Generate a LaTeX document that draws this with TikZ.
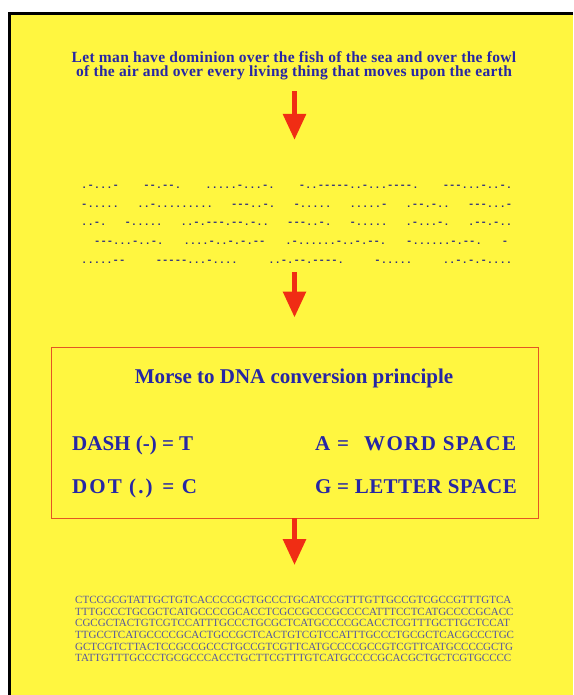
\documentclass[tikz,border=0pt]{standalone}
\usepackage{fontspec}
\setmainfont{Liberation Serif}
\newfontfamily\morsefont[Ligatures=TeXOff]{Liberation Mono}
\usetikzlibrary{arrows.meta}

\definecolor{pageyellow}{RGB}{255,246,64}
\definecolor{inkblue}{RGB}{38,38,165}
\definecolor{dnablue}{RGB}{85,85,160}
\definecolor{morseblue}{RGB}{40,40,130}
\definecolor{arrowred}{RGB}{240,45,20}
\definecolor{boxred}{RGB}{228,85,35}

\tikzset{
  headline/.style={font=\fontsize{15.5}{14.2}\selectfont\bfseries\addfontfeature{LetterSpace=2.2}, text=inkblue, align=center, inner sep=0pt},
  morseline/.style={font=\morsefont\fontsize{10.5}{10.5}\selectfont\bfseries, text=morseblue, inner sep=0pt, anchor=base west},
  rulebox/.style={draw=boxred, line width=0.9pt, minimum width=487pt, minimum height=171pt, inner sep=0pt},
  ruletext/.style={font=\fontsize{21}{21}\selectfont\bfseries, text=inkblue, inner sep=0pt, anchor=base west},
  widetext/.style={ruletext, font=\fontsize{21}{21}\selectfont\bfseries\addfontfeature{LetterSpace=#1}},
  dnaline/.style={font=\fontsize{11}{11}\selectfont, text=dnablue, inner sep=0pt, anchor=base west},
  bigarrow/.style={draw=arrowred, line width=5.5pt, -{Triangle[width=22pt,length=26pt]}},
}

\begin{document}
\begin{tikzpicture}[x=1pt, y=-1pt]
  \useasboundingbox (0,0) rectangle (573,695);
  \fill[white] (0,0) rectangle (573,695);
  \fill[pageyellow] (9.5,13.5) rectangle (573,695);
  \draw[line width=3pt] (9.5,695) -- (9.5,13.5) -- (573,13.5);

  % the verse
  \node[headline] (title) at (294,66) {Let man have dominion over the fish of the sea and over the fowl\\of the air and over every living thing that moves upon the earth};

  % the verse in morse
  \node[morseline] (morse1) at (81,188.5) {\strut\hbox to 431pt{.-...-\hfill --.--.\hfill .....-...-.\hfill -..-----..-...----.\hfill ---...-..-.}};
  \node[morseline] (morse2) at (81,207) {\strut\hbox to 431pt{-.....\hfill ..-.........\hfill ---..-.\hfill -.....\hfill .....-\hfill .--.-..\hfill ---...-}};
  \node[morseline] (morse3) at (81,225.5) {\strut\hbox to 431pt{..-.\hfill -.....\hfill ..-.---.--.-..\hfill ---..-.\hfill -.....\hfill .-...-.\hfill .--.-..}};
  \node[morseline] (morse4) at (81,244) {\strut\hbox to 431pt{\hspace{13pt}---...-..-.\hfill ....-..-.-.--\hfill .-......-..-.--.\hfill -......-.--.\hfill -\hspace{4pt}}};
  \node[morseline] (morse5) at (81,263) {\strut\hbox to 431pt{.....--\hfill -----...-....\hfill ..-.--.----.\hfill -.....\hfill ..-.-.-....}};

  % conversion rules
  \node[rulebox] (principle) at (294.5,432.5) {};
  \node[ruletext, font=\fontsize{21}{21}\selectfont\bfseries, anchor=base] (ruletitle) at (294,383) {Morse to DNA conversion principle};
  \node[ruletext] (dashrule) at (72,450) {DASH (-) = T};
  \node[widetext=10] (dotrule) at (72,493) {DOT (.) = C};
  \node[widetext=7] (wordrule) at (315,450) {A =\hspace{15pt}WORD SPACE};
  \node[widetext=2] (letterrule) at (315,493) {G = LETTER SPACE};

  % resulting sequence
  \node[dnaline] (dna1) at (75,603.6) {CTCCGCGTATTGCTGTCACCCCGCTGCCCTGCATCCGTTTGTTGCCGTCGCCGTTTGTCA};
  \node[dnaline] (dna2) at (75,615.2) {TTTGCCCTGCGCTCATGCCCCGCACCTCGCCGCCCGCCCCATTTCCTCATGCCCCGCACC};
  \node[dnaline] (dna3) at (75,626.8) {CGCGCTACTGTCGTCCATTTGCCCTGCGCTCATGCCCCGCACCTCGTTTGCTTGCTCCAT};
  \node[dnaline] (dna4) at (75,638.4) {TTGCCTCATGCCCCGCACTGCCGCTCACTGTCGTCCATTTGCCCTGCGCTCACGCCCTGC};
  \node[dnaline] (dna5) at (75,650.0) {GCTCGTCTTACTCCGCCGCCCTGCCGTCGTTCATGCCCCGCCGTCGTTCATGCCCCGCTG};
  \node[dnaline] (dna6) at (75,661.6) {TATTGTTTGCCCTGCGCCCACCTGCTTCGTTTGTCATGCCCCGCACGCTGCTCGTGCCCC};

  \draw[bigarrow, shorten <=11pt, shorten >=41pt] (title.south -| principle.north) -- (morse1.north -| principle.north);
  \draw[bigarrow, shorten <=6pt, shorten >=29pt] (morse5.south -| principle.north) -- (principle.north);
  \draw[bigarrow, shorten >=31pt] (principle.south) -- (dna1.north -| principle.south);
\end{tikzpicture}
\end{document}
